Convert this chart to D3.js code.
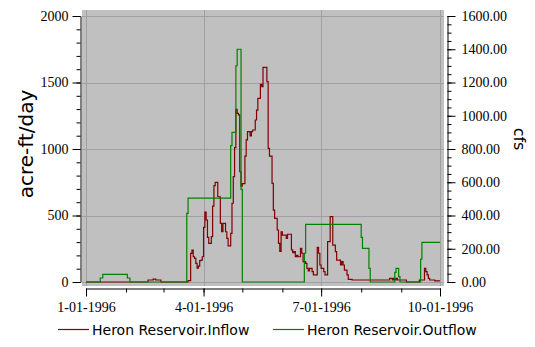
<!DOCTYPE html>
<html>
<head>
<meta charset="utf-8">
<script src="https://cdn.jsdelivr.net/npm/d3@7"></script>
<style>
  body { margin: 0; background: #fff; }
  svg { font-family: "DejaVu Sans", sans-serif; }
</style>
</head>
<body>
<svg id="chart" width="535" height="347"></svg>
<script>
// step change points (acre-ft/day)
const inflowDates = [
  "1996-01-01", "1996-02-18", "1996-02-22", "1996-02-24", "1996-02-28", "1996-03-20",
  "1996-03-22", "1996-03-23", "1996-03-24", "1996-03-25", "1996-03-26", "1996-03-27",
  "1996-03-28", "1996-03-29", "1996-03-30", "1996-03-31", "1996-04-01", "1996-04-02",
  "1996-04-03", "1996-04-04", "1996-04-05", "1996-04-07", "1996-04-08", "1996-04-09",
  "1996-04-10", "1996-04-12", "1996-04-14", "1996-04-15", "1996-04-16", "1996-04-18",
  "1996-04-19", "1996-04-20", "1996-04-22", "1996-04-23", "1996-04-24", "1996-04-25",
  "1996-04-26", "1996-04-27", "1996-04-28", "1996-04-29", "1996-04-30", "1996-05-01",
  "1996-05-03", "1996-05-04", "1996-05-05", "1996-05-07", "1996-05-08", "1996-05-09",
  "1996-05-11", "1996-05-12", "1996-05-13", "1996-05-15", "1996-05-16", "1996-05-17",
  "1996-05-20", "1996-05-21", "1996-05-22", "1996-05-24", "1996-05-25", "1996-05-26",
  "1996-05-28", "1996-05-29", "1996-05-30", "1996-05-31", "1996-06-01", "1996-06-04",
  "1996-06-05", "1996-06-08", "1996-06-09", "1996-06-10", "1996-06-11", "1996-06-12",
  "1996-06-13", "1996-06-15", "1996-06-16", "1996-06-17", "1996-06-19", "1996-06-20",
  "1996-06-21", "1996-06-22", "1996-06-24", "1996-06-25", "1996-06-28", "1996-06-29",
  "1996-06-30", "1996-07-01", "1996-07-03", "1996-07-04", "1996-07-06", "1996-07-08",
  "1996-07-10", "1996-07-12", "1996-07-13", "1996-07-16", "1996-07-17", "1996-07-18",
  "1996-07-19", "1996-07-21", "1996-07-22", "1996-07-25", "1996-08-23", "1996-08-25",
  "1996-08-26", "1996-08-27", "1996-08-28", "1996-08-29", "1996-09-05", "1996-09-15",
  "1996-09-19", "1996-09-20", "1996-09-21", "1996-09-22", "1996-09-23", "1996-09-27",
  "1996-10-01"
];
const inflowValues = [
  0, 15, 22, 15, 0, 10,
  215, 240, 190, 178, 140, 105,
  120, 160, 165, 190, 410, 526,
  466, 336, 291, 341, 570, 724,
  749, 641, 441, 378, 441, 378,
  328, 271, 366, 592, 792, 1010,
  1298, 1268, 1256, 829, 720, 740,
  947, 1068, 1130, 1098, 1130, 1143,
  1218, 1293, 1381, 1486, 1468, 1614,
  1506, 1005, 947, 742, 541, 479,
  391, 291, 230, 378, 353, 328,
  359, 241, 220, 228, 190, 200,
  190, 253, 216, 153, 140, 103,
  83, 103, 78, 53, 261, 216,
  128, 103, 78, 53, 303, 491,
  278, 228, 165, 128, 153, 128,
  90, 53, 20, 15, 28, 15,
  28, 15, 28, 15, 0, 15,
  103, 78, 53, 28, 15, 8,
  8
];

const outflowDates = [
  "1996-01-01", "1996-01-12", "1996-01-14", "1996-02-02", "1996-02-04", "1996-03-19",
  "1996-03-20", "1996-04-22", "1996-04-23", "1996-04-26", "1996-04-27", "1996-04-30",
  "1996-05-01", "1996-06-18", "1996-06-19", "1996-08-01", "1996-08-02", "1996-08-07",
  "1996-08-08", "1996-08-27", "1996-08-28", "1996-08-30", "1996-08-31", "1996-09-16",
  "1996-09-17", "1996-10-01"
];
const outflowValues = [
  0, 30, 58, 30, 0, 516,
  630, 1025, 1125, 1626, 1750, 697,
  0, 216, 434, 336, 253, 103,
  0, 73, 103, 40, 0, 171,
  298, 298
];

const leftTicks = [0, 500, 1000, 1500, 2000];
const rightTicks = [0, 200, 400, 600, 800, 1000, 1200, 1400, 1600];
const xTickDates = ["1996-01-01", "1996-04-01", "1996-07-01", "1996-10-01"];
const seriesNames = ["Heron Reservoir.Inflow", "Heron Reservoir.Outflow"];
const seriesColors = ["#800000", "#008000"];

const parse = d3.timeParse("%Y-%m-%d");
const inflow = inflowDates.map((d, i) => ({ date: parse(d), value: inflowValues[i] }));
const outflow = outflowDates.map((d, i) => ({ date: parse(d), value: outflowValues[i] }));
const xTicks = xTickDates.map(parse);

const svg = d3.select("#chart");

const x = d3.scaleTime()
  .domain([parse("1996-01-01"), parse("1996-10-01")])
  .range([86, 440]);
const y = d3.scaleLinear().domain([0, 2000]).range([282, 16]);
const y2 = d3.scaleLinear().domain([0, 1600]).range([282, 16]);

// serif tick labels like the original
function serifLabels(g) {
  g.selectAll(".tick text")
    .style("font-family", "'Liberation Serif', 'DejaVu Serif', serif")
    .style("font-size", "14px")
    .attr("fill", "#000");
}

// plot background
svg.append("rect")
  .attr("x", 82).attr("y", 10)
  .attr("width", 362).attr("height", 276)
  .attr("fill", "#c0c0c0");

// grid
const grid = svg.append("g").attr("stroke", "#a0a0a4").attr("stroke-width", 1);
grid.selectAll(".gy").data(leftTicks).join("line")
  .attr("x1", 82).attr("x2", 444)
  .attr("y1", d => Math.round(y(d)) + 0.5).attr("y2", d => Math.round(y(d)) + 0.5);
grid.selectAll(".gx").data(xTicks).join("line")
  .attr("y1", 10).attr("y2", 286)
  .attr("x1", d => Math.round(x(d)) + 0.5).attr("x2", d => Math.round(x(d)) + 0.5);

// series
const line = d3.line()
  .x(d => x(d.date))
  .y(d => y(d.value))
  .curve(d3.curveStepAfter);

[inflow, outflow].forEach((s, i) => {
  svg.append("path")
    .datum(s)
    .attr("fill", "none")
    .attr("stroke", seriesColors[i])
    .attr("stroke-width", 1.2)
    .attr("d", line);
});

// left axis
svg.append("g")
  .attr("transform", "translate(80.5,0)")
  .call(d3.axisLeft(y).tickValues(d3.range(0, 2001, 100)).tickSize(4).tickFormat(""))
  .call(g => g.select(".domain").remove());
svg.append("g")
  .attr("transform", "translate(80.5,0)")
  .call(d3.axisLeft(y).tickValues(leftTicks).tickSize(8).tickSizeOuter(0)
    .tickPadding(4).tickFormat(d3.format("d")))
  .call(serifLabels);

// right axis
svg.append("g")
  .attr("transform", "translate(447.5,0)")
  .call(d3.axisRight(y2).tickValues(d3.range(0, 1601, 50)).tickSize(4).tickFormat(""))
  .call(g => g.select(".domain").remove());
svg.append("g")
  .attr("transform", "translate(447.5,0)")
  .call(d3.axisRight(y2).tickValues(rightTicks).tickSize(8).tickSizeOuter(0)
    .tickPadding(6).tickFormat(d3.format(".2f")))
  .call(serifLabels);

// bottom axis
svg.append("g")
  .attr("transform", "translate(0,288.5)")
  .call(d3.axisBottom(x).ticks(d3.timeMonth.every(1)).tickSize(4).tickFormat(""))
  .call(g => g.select(".domain").remove());
svg.append("g")
  .attr("transform", "translate(0,288.5)")
  .call(d3.axisBottom(x).tickValues(xTicks).tickSize(8).tickSizeOuter(0)
    .tickPadding(6).tickFormat(d3.timeFormat("%-m-%d-%Y")))
  .call(serifLabels);

// axis titles
svg.append("text")
  .attr("transform", "translate(33,144) rotate(-90)")
  .attr("text-anchor", "middle")
  .attr("font-size", 20)
  .text("acre-ft/day");
svg.append("text")
  .attr("transform", "translate(514,139) rotate(90)")
  .attr("text-anchor", "middle")
  .attr("font-size", 16)
  .text("cfs");

// legend
const legendX = [58, 273];
const legend = svg.append("g");
seriesNames.forEach((name, i) => {
  legend.append("line")
    .attr("x1", legendX[i]).attr("x2", legendX[i] + 31)
    .attr("y1", 329.5).attr("y2", 329.5)
    .attr("stroke", seriesColors[i]).attr("stroke-width", 1.2);
  legend.append("text")
    .attr("x", legendX[i] + 34).attr("y", 335)
    .attr("font-size", 14)
    .text(name);
});
</script>
</body>
</html>
